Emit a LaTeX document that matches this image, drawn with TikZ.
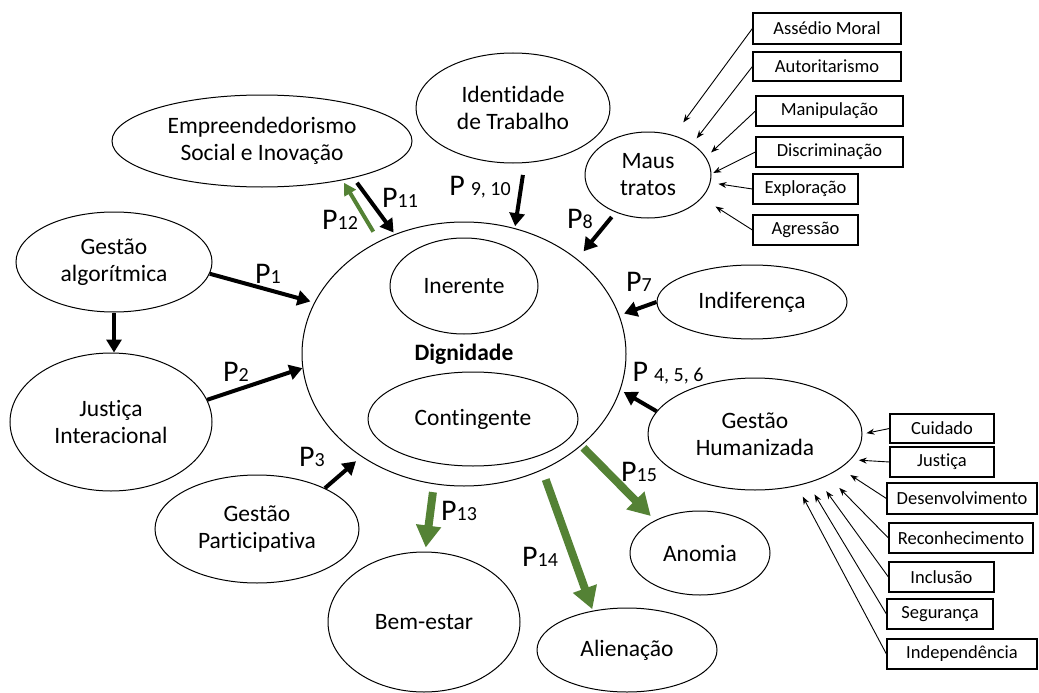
\documentclass[tikz,border=0pt]{standalone}
\usepackage{fontspec}
\setmainfont{Carlito}[Ligatures=CommonOff]
\usetikzlibrary{shapes.geometric,arrows.meta}
\definecolor{grn}{RGB}{84,130,53}
\newcommand{\sm}[1]{{\fontsize{20}{20}\selectfont #1}}
\begin{document}
\begin{tikzpicture}[x=1pt,y=-1pt,
  ell/.style={ellipse, draw, line width=1pt, inner sep=0pt, align=center, font=\fontsize{23.5}{27}\selectfont},
  rbox/.style={rectangle, draw, line width=1.2pt, inner sep=0pt, font=\fontsize{18.5}{21}\selectfont},
  thinarr/.style={-{Stealth[length=8pt,width=6pt]}, line width=0.9pt},
  blkarr/.style={-{Triangle[length=13pt,width=15pt]}, line width=4pt},
  grnarr/.style={color=grn, -{Triangle[length=22pt,width=24pt]}, line width=8pt},
  grnthin/.style={color=grn, -{Triangle[length=12pt,width=13pt]}, line width=4pt},
  plab/.style={inner sep=0pt, font=\fontsize{30}{30}\selectfont}]
\useasboundingbox (0,0) rectangle (1039,693);

% main
\node[ell, minimum width=324pt, minimum height=264pt] (dig) at (464,354) {\textbf{Dignidade}};
\node[ell, minimum width=148pt, minimum height=96pt] (ine) at (464,286) {Inerente};
\node[ell, minimum width=210pt, minimum height=94pt] (con) at (473,419) {Contingente};

% surrounding ellipses
\node[ell, minimum width=300pt, minimum height=92pt] (emp) at (262,141) {Empreendedorismo\\Social e Inovação};
\node[ell, minimum width=194pt, minimum height=110pt] (ide) at (513,108) {Identidade\\de Trabalho};
\node[ell, minimum width=126pt, minimum height=86pt] (mau) at (648,175) {Maus\\tratos};
\node[ell, minimum width=190pt, minimum height=74pt] (ind) at (752,302) {Indiferença};
\node[ell, minimum width=214pt, minimum height=112pt] (hum) at (755,434) {Gestão\\Humanizada};
\node[ell, minimum width=196pt, minimum height=100pt] (alg) at (114,262) {Gestão\\algorítmica};
\node[ell, minimum width=202pt, minimum height=138pt] (jus) at (111,422) {Justiça\\Interacional};
\node[ell, minimum width=204pt, minimum height=108pt] (par) at (257,529) {Gestão\\Participativa};
\node[ell, minimum width=192pt, minimum height=140pt] (bem) at (424,622) {Bem-estar};
\node[ell, minimum width=180pt, minimum height=84pt] (ali) at (627,650) {Alienação};
\node[ell, minimum width=140pt, minimum height=84pt] (ano) at (700,553) {Anomia};

% boxes top right
\node[rbox, minimum width=148pt, minimum height=31pt] (b1) at (827,28.5) {Assédio Moral};
\node[rbox, minimum width=148pt, minimum height=29pt] (b2) at (827,66.5) {Autoritarismo};
\node[rbox, minimum width=147pt, minimum height=30pt] (b3) at (829.5,111) {Manipulação};
\node[rbox, minimum width=147pt, minimum height=30pt] (b4) at (829.5,152) {Discriminação};
\node[rbox, minimum width=105pt, minimum height=30pt] (b5) at (805.5,189) {Exploração};
\node[rbox, minimum width=105pt, minimum height=30pt] (b6) at (805.5,230) {Agressão};

% boxes bottom right
\node[rbox, minimum width=104pt, minimum height=29pt] (c1) at (942,428.5) {Cuidado};
\node[rbox, minimum width=104pt, minimum height=30pt] (c2) at (942,462) {Justiça};
\node[rbox, minimum width=150pt, minimum height=31pt] (c3) at (962,498.5) {Desenvolvimento};
\node[rbox, minimum width=144pt, minimum height=30pt] (c4) at (961,538) {Reconhecimento};
\node[rbox, minimum width=105pt, minimum height=30pt] (c5) at (941.5,577) {Inclusão};
\node[rbox, minimum width=106pt, minimum height=30pt] (c6) at (940,614) {Segurança};
\node[rbox, minimum width=150pt, minimum height=30pt] (c7) at (962,654) {Independência};

% thin arrows to Maus tratos
\draw[thinarr, shorten >=16pt] (b1.west) -- (mau.57);
\draw[thinarr, shorten >=7pt] (b2.west) -- (mau.35.5);
\draw[thinarr, shorten >=7pt] (b3.west) -- (mau.17.4);
\draw[thinarr, shorten >=2pt] (b4.west) -- (mau.1.8);
\draw[thinarr, shorten >=8pt] (b5.west) -- (mau.-7.3);
\draw[thinarr, shorten >=16pt] (b6.west) -- (mau.-23);

% thin arrows to Gestao Humanizada
\draw[thinarr, shorten >=4pt] (c1.west) -- (hum.0);
\draw[thinarr, shorten >=8pt] (c2.west) -- (hum.-15.2);
\draw[thinarr, shorten >=12pt] (c3.west) -- (hum.-22.1);
\draw[thinarr, shorten >=17pt] (c4.west) -- (hum.-30.2);
\draw[thinarr, shorten >=14pt] (c5.west) -- (hum.-36.1);
\draw[thinarr, shorten >=13pt] (c6.west) -- (hum.-43.6);
\draw[thinarr, shorten >=12pt] (c7.west) -- (hum.-51.8);

% black arrows
\draw[blkarr] (alg.south) -- (alg.south |- jus.north);
\draw[blkarr, shorten >=4pt] (alg.-7.5) -- (dig.161.6);
\draw[blkarr] (jus.13.6) -- (dig.-175);
\draw[blkarr, shorten >=7pt] (par.31) -- (dig.225.5);
\draw[blkarr, shorten <=6pt, shorten >=2pt] (emp.-22) -- (dig.120.4);
\draw[blkarr, shorten <=12pt, shorten >=2pt] (ide.-78) -- (dig.68.1);
\draw[blkarr, shorten <=6pt, shorten >=10pt] (mau.229.4) -- (dig.40.6);
\draw[blkarr, shorten >=5pt] (ind.180) -- (dig.14.8);
\draw[blkarr, shorten >=4pt] (hum.167.6) -- (dig.-13.8);

% green arrows
\draw[grnthin, shorten <=11pt, shorten >=3pt] (dig.127.2) -- (emp.-26.8);
\draw[grnarr, shorten <=8pt, shorten >=4pt] (dig.-103) -- (bem.89);
\draw[grnarr, shorten <=10pt, shorten >=1.5pt] (dig.-56.2) -- (ali.131.2);
\draw[grnarr, shorten <=3pt, shorten >=6pt] (dig.-38.3) -- (ano.144.2);

% labels
\node[plab] (l1) at (268,274) {P\sm{1}};
\node[plab] (l2) at (236,372) {P\sm{2}};
\node[plab] (l3) at (312,457) {P\sm{3}};
\node[plab] (l456) at (668,373) {P\hspace{6pt}\sm{4, 5, 6}};
\node[plab] (l7) at (639,282) {P\sm{7}};
\node[plab] (l8) at (580,219) {P\sm{8}};
\node[plab] (l910) at (480,187) {P\hspace{6pt}\sm{9, 10}};
\node[plab] (l11) at (400,198) {P\sm{11}};
\node[plab] (l12) at (340,220) {P\sm{12}};
\node[plab] (l13) at (459,511) {P\sm{13}};
\node[plab] (l14) at (540,557) {P\sm{14}};
\node[plab] (l15) at (639,472) {P\sm{15}};
\end{tikzpicture}
\end{document}
